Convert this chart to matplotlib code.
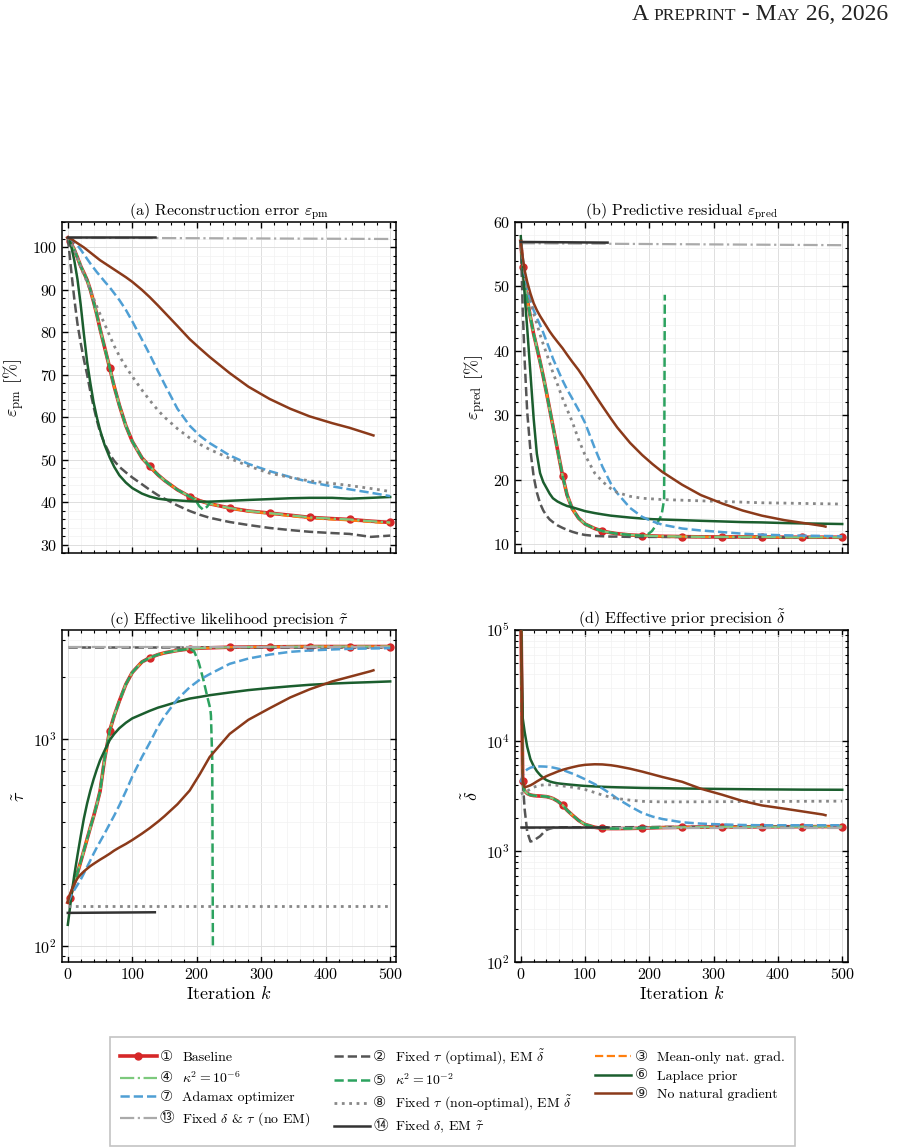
import matplotlib
matplotlib.use('Agg')
import matplotlib.pyplot as plt
from matplotlib.lines import Line2D
from matplotlib.text import Text
from matplotlib.legend_handler import HandlerLine2D
from matplotlib.ticker import MultipleLocator, NullFormatter
from matplotlib.offsetbox import TextArea, HPacker, AnchoredOffsetbox

plt.rcParams.update({
    'font.family': ['cmr10', 'DejaVu Sans'],
    'mathtext.fontset': 'cm',
    'axes.formatter.use_mathtext': True,
    'axes.unicode_minus': False,
    'axes.linewidth': 1.1,
})

# iteration grid (read-off points)
K = [0, 3, 6, 10, 15, 20, 25, 30, 35, 40, 45, 50, 57, 65, 72, 80, 90, 100, 115, 127,
     140, 150, 170, 189, 205, 220, 251, 280, 313, 345, 375, 410, 437, 470, 500]
K_nng = K[:-1] + [474]          # no natural gradient stops early
K_full = [0, 500]
K_fix14 = [0, 135]
MARKS = [1, 13, 19, 23, 26, 28, 30, 32, 34]  # baseline markers

# (a) reconstruction error [%]
pm_base = [102.3, 101.6, 100.7, 99.5, 97.6, 95.6, 94.0, 92.3, 90.0, 87.2, 84.2, 80.8, 76.5, 71.6, 67.2, 62.8, 58.0, 54.3, 50.4, 48.4,
           46.4, 45.1, 42.9, 41.3, 40.3, 39.6, 38.6, 37.9, 37.4, 36.9, 36.4, 36.1, 35.9, 35.5, 35.2]
pm_meanonly = [102.3, 101.6, 100.7, 99.5, 97.6, 95.6, 94.0, 92.3, 90.0, 87.2, 84.2, 80.8, 76.5, 71.6, 67.2, 62.8, 58.0, 54.3, 50.4, 48.4,
               46.4, 45.1, 42.9, 41.3, 40.3, 39.6, 38.5, 37.8, 37.3, 36.7, 36.2, 35.9, 35.7, 35.3, 35.0]
pm_fixtau = [102.3, 98.0, 93.5, 88.0, 82.0, 77.5, 73.5, 70.0, 66.0, 62.5, 59.3, 56.5, 53.8, 51.3, 49.7, 48.3, 47.0, 45.8, 44.2, 42.9,
             41.6, 40.8, 39.2, 37.9, 37.0, 36.3, 35.3, 34.6, 33.9, 33.4, 33.0, 32.7, 32.5, 31.8, 32.1]
pm_laplace = [102.3, 101.6, 99.8, 97.0, 92.5, 86.5, 79.5, 73.0, 68.0, 63.5, 60.0, 57.0, 53.5, 50.5, 48.3, 46.3, 44.6, 43.3, 42.0, 41.3,
              40.8, 40.6, 40.4, 40.2, 40.1, 40.1, 40.3, 40.5, 40.7, 40.9, 41.0, 41.0, 40.8, 41.0, 41.2]
pm_adamax = [102.3, 102.1, 101.8, 101.3, 100.5, 99.5, 98.4, 97.3, 96.2, 95.2, 94.2, 93.3, 92.0, 90.6, 89.2, 87.6, 85.3, 82.6, 78.3, 74.8,
             70.8, 67.8, 62.0, 58.0, 55.6, 53.9, 51.0, 49.0, 47.3, 45.9, 44.7, 43.7, 43.0, 42.2, 41.4]
pm_nonopt = [102.3, 101.7, 100.8, 99.5, 97.5, 95.5, 93.6, 91.8, 89.9, 88.0, 86.1, 84.3, 82.0, 79.2, 76.8, 74.4, 71.9, 69.6, 66.4, 64.0,
             61.6, 60.0, 57.3, 55.1, 53.6, 52.4, 50.3, 48.5, 46.8, 45.8, 45.0, 44.4, 43.9, 43.2, 42.5]
pm_nonat = [102.3, 102.1, 101.9, 101.5, 101.0, 100.5, 100.0, 99.4, 98.8, 98.2, 97.6, 97.0, 96.3, 95.5, 94.8, 94.0, 93.0, 91.9, 90.0, 88.3,
            86.3, 84.7, 81.5, 78.4, 76.2, 74.2, 70.4, 67.2, 64.3, 62.0, 60.2, 58.6, 57.5, 55.9, 55.7]
pm_k2_k = K[:24] + [198, 204, 210, 216, 222]
pm_k2 = pm_base[:24] + [40.5, 39.0, 38.2, 38.9, 40.2]
pm_fix13 = [102.3, 102.0]
pm_fix14 = [102.4, 102.4]

# (b) predictive residual [%]
pred_base = [57.0, 53.0, 50.5, 48.0, 45.2, 42.6, 40.5, 38.3, 36.0, 33.5, 30.9, 28.3, 24.7, 20.6, 17.6, 15.5, 14.0, 13.1, 12.4, 12.0,
             11.75, 11.6, 11.4, 11.3, 11.25, 11.2, 11.15, 11.1, 11.1, 11.1, 11.1, 11.05, 11.05, 11.05, 11.05]
pred_fixtau = [57.0, 46.5, 38.5, 30.5, 24.5, 20.5, 18.0, 16.3, 15.2, 14.4, 13.8, 13.4, 12.9, 12.5, 12.2, 11.9, 11.6, 11.4, 11.25, 11.2,
               11.15, 11.15, 11.1, 11.1, 11.1, 11.1, 11.1, 11.1, 11.05, 11.05, 11.05, 11.05, 11.05, 11.05, 11.05]
pred_laplace = [57.8, 53.0, 48.7, 43.5, 36.5, 29.5, 24.0, 21.0, 19.6, 18.7, 17.8, 17.1, 16.6, 16.2, 15.9, 15.7, 15.4, 15.1, 14.8, 14.6,
                14.4, 14.3, 14.1, 13.95, 13.85, 13.8, 13.7, 13.6, 13.5, 13.4, 13.35, 13.25, 13.2, 13.15, 13.1]
pred_adamax = [57.0, 54.5, 52.0, 50.0, 47.8, 46.3, 45.1, 44.0, 42.8, 41.5, 40.2, 38.8, 37.2, 35.4, 34.0, 32.6, 30.8, 28.8, 24.9, 22.0,
               19.4, 17.9, 15.6, 14.2, 13.5, 13.0, 12.4, 12.1, 11.85, 11.6, 11.45, 11.35, 11.3, 11.25, 11.2]
pred_nonopt = [57.0, 54.3, 51.8, 49.5, 47.4, 45.8, 44.2, 42.5, 41.0, 39.6, 38.1, 36.6, 34.8, 32.6, 30.9, 29.0, 26.2, 23.8, 21.0, 19.7,
               18.6, 18.0, 17.4, 17.1, 17.0, 16.9, 16.8, 16.7, 16.6, 16.5, 16.4, 16.35, 16.3, 16.25, 16.2]
pred_nonat = [57.0, 54.5, 52.5, 50.7, 48.9, 47.4, 46.3, 45.4, 44.6, 43.8, 43.0, 42.3, 41.4, 40.4, 39.4, 38.3, 37.0, 35.5, 33.2, 31.4,
              29.5, 28.1, 25.7, 23.8, 22.4, 21.2, 19.2, 17.6, 16.3, 15.2, 14.4, 13.7, 13.3, 12.8, 12.7]
pred_k2_k = K[:24] + [196, 204, 211, 219, 222, 223, 224]
pred_k2 = pred_base[:24] + [11.4, 12.0, 13.0, 14.5, 16.3, 17.0, 48.7]
pred_fix13 = [56.7, 56.4]
pred_fix14 = [56.9, 56.8]

# (c) effective likelihood precision
tau_base = [163, 172, 183, 200, 226, 256, 290, 330, 375, 424, 485, 560, 800, 1100, 1300, 1530, 1840, 2100, 2360, 2470,
            2560, 2610, 2680, 2730, 2750, 2760, 2780, 2785, 2790, 2795, 2800, 2800, 2800, 2800, 2800]
tau_laplace = [127, 150, 180, 220, 275, 340, 415, 490, 565, 640, 715, 790, 880, 990, 1060, 1130, 1200, 1260, 1320, 1370,
               1420, 1450, 1515, 1570, 1600, 1630, 1680, 1725, 1765, 1800, 1830, 1855, 1870, 1885, 1900]
tau_adamax = [163, 170, 178, 187, 198, 210, 225, 242, 260, 280, 300, 320, 350, 390, 428, 480, 560, 660, 820, 960,
              1150, 1290, 1560, 1780, 1940, 2060, 2310, 2450, 2560, 2640, 2680, 2710, 2730, 2740, 2750]
tau_nonat = [163, 177, 187, 200, 213, 222, 230, 237, 244, 250, 256, 262, 270, 280, 290, 300, 312, 326, 350, 372,
             400, 425, 485, 565, 680, 820, 1060, 1240, 1410, 1590, 1740, 1900, 2000, 2130, 2150]
tau_k2_k = K[:24] + [196, 203, 210, 216, 221, 222, 224, 225]
tau_k2 = tau_base[:24] + [2650, 2350, 1950, 1620, 1400, 1300, 800, 100]
tau_fixtau = [2780, 2780]
tau_nonopt = [157, 157]
tau_fix13 = [2780, 2780]
tau_fix14 = [145, 146]

# (d) effective prior precision
delta_base = [2.0e5, 4300, 3500, 3330, 3230, 3190, 3170, 3160, 3140, 3120, 3070, 3000, 2850, 2620, 2350, 2130, 1900, 1750, 1650, 1610,
              1605, 1605, 1610, 1620, 1630, 1640, 1650, 1655, 1660, 1662, 1665, 1668, 1670, 1672, 1675]
delta_fixtau = [2.0e5, 4400, 2400, 1500, 1225, 1250, 1310, 1370, 1470, 1560, 1600, 1630, 1645, 1650, 1650, 1650, 1650, 1650, 1650, 1650,
                1650, 1650, 1652, 1655, 1658, 1660, 1660, 1662, 1665, 1665, 1665, 1668, 1670, 1670, 1670]
delta_laplace = [1.5e5, 16000, 12000, 8800, 6800, 5900, 5300, 4900, 4600, 4400, 4280, 4200, 4120, 4070, 4030, 3990, 3940, 3900, 3860, 3830,
                 3805, 3790, 3765, 3740, 3730, 3720, 3700, 3680, 3660, 3645, 3630, 3620, 3610, 3605, 3600]
delta_adamax = [4200, 4900, 5250, 5500, 5700, 5800, 5840, 5850, 5840, 5820, 5770, 5720, 5600, 5450, 5250, 5050, 4770, 4480, 4050, 3700,
                3300, 3000, 2550, 2220, 2060, 1960, 1830, 1780, 1750, 1730, 1720, 1720, 1720, 1720, 1720]
delta_nonopt = [3300, 3350, 3400, 3500, 3650, 3800, 3880, 3950, 3980, 4000, 3990, 3980, 3950, 3900, 3850, 3800, 3720, 3620, 3400, 3220,
                3080, 3000, 2900, 2830, 2810, 2800, 2800, 2805, 2810, 2815, 2820, 2825, 2830, 2835, 2840]
delta_nonat = [2.0e5, 4200, 3800, 3850, 3950, 4100, 4280, 4450, 4620, 4780, 4920, 5050, 5250, 5450, 5600, 5750, 5930, 6050, 6120, 6100,
               6000, 5880, 5580, 5250, 4960, 4700, 4250, 3680, 3250, 2850, 2600, 2430, 2300, 2150, 2120]
delta_k2_k = K[:26]
delta_k2 = delta_base[:26]
delta_fix13 = [1640, 1640]
delta_fix14 = [1650, 1650]

labels = {
    'base': 'Baseline',
    'fixtau': 'Fixed $\\tau$ (optimal), EM $\\tilde{\\delta}$',
    'meanonly': 'Mean-only nat. grad.',
    'k6': '$\\kappa^2 = 10^{-6}$',
    'k2': '$\\kappa^2 = 10^{-2}$',
    'laplace': 'Laplace prior',
    'adamax': 'Adamax optimizer',
    'nonopt': 'Fixed $\\tau$ (non-optimal), EM $\\tilde{\\delta}$',
    'nonat': 'No natural gradient',
    'fix13': 'Fixed $\\delta$ & $\\tau$ (no EM)',
    'fix14': 'Fixed $\\delta$, EM $\\tilde{\\tau}$',
}
numbers = {'base': '\u2460', 'fixtau': '\u2461', 'meanonly': '\u2462', 'k6': '\u2463',
           'k2': '\u2464', 'laplace': '\u2465', 'adamax': '\u2466', 'nonopt': '\u2467',
           'nonat': '\u2468', 'fix13': '\u246c', 'fix14': '\u246d'}

st = {
    'base': dict(color='#d62728', ls='-', lw=2.6, marker='o', ms=5, zorder=2),
    'fixtau': dict(color='#555555', ls='--', lw=1.8, zorder=3),
    'meanonly': dict(color='#ff7f0e', ls='--', lw=1.6, zorder=3),
    'k6': dict(color='#7dc97d', ls='-.', lw=1.6, zorder=3),
    'k2': dict(color='#2ca25f', ls='--', lw=1.8, zorder=4),
    'laplace': dict(color='#1b5e2e', ls='-', lw=1.8, zorder=4),
    'adamax': dict(color='#4f9fd4', ls='--', lw=1.8, zorder=4),
    'nonopt': dict(color='#888888', ls=':', lw=2.0, zorder=4),
    'nonat': dict(color='#8b3a1a', ls='-', lw=1.8, zorder=4),
    'fix13': dict(color='#aaaaaa', ls='-.', lw=1.6, zorder=3),
    'fix14': dict(color='#333333', ls='-', lw=1.8, zorder=5),
}


class CircledLine(HandlerLine2D):
    # legend line followed by a circled number (cmr10 has no such glyphs)
    def __init__(self, mark, **kw):
        super().__init__(**kw)
        self.mark = mark

    def create_artists(self, legend, orig_handle, xdescent, ydescent, width, height, fontsize, trans):
        arts = super().create_artists(legend, orig_handle, xdescent, ydescent, width, height, fontsize, trans)
        t = Text(width - xdescent + 0.25 * fontsize, height / 2 - ydescent, self.mark,
                 fontsize=fontsize * 1.05, fontfamily=['DejaVu Sans', 'Noto Sans CJK SC'],
                 color='#222222', ha='left', va='center', transform=trans)
        return arts + [t]


fig = plt.figure(figsize=(9.04, 11.48), dpi=100)
W, H = 904, 1148


def add_ax(l, t, r, b):
    return fig.add_axes([l / W, 1 - b / H, (r - l) / W, (b - t) / H])


ax_a = add_ax(62, 222, 396, 553)
ax_b = add_ax(515, 222, 848, 553)
ax_c = add_ax(62, 630, 396, 962)
ax_d = add_ax(515, 630, 848, 962)


def draw(ax, base, rows):
    ax.plot(K, base, markevery=MARKS, **st['base'])
    for key, k, y in rows:
        ax.plot(k, y, **st[key])


draw(ax_a, pm_base, [
    ('fixtau', K, pm_fixtau), ('meanonly', K, pm_meanonly), ('k6', K, pm_base),
    ('k2', pm_k2_k, pm_k2), ('laplace', K, pm_laplace), ('adamax', K, pm_adamax),
    ('nonopt', K, pm_nonopt), ('nonat', K_nng, pm_nonat),
    ('fix13', K_full, pm_fix13), ('fix14', K_fix14, pm_fix14)])
draw(ax_b, pred_base, [
    ('fixtau', K, pred_fixtau), ('meanonly', K, pred_base), ('k6', K, pred_base),
    ('k2', pred_k2_k, pred_k2), ('laplace', K, pred_laplace), ('adamax', K, pred_adamax),
    ('nonopt', K, pred_nonopt), ('nonat', K_nng, pred_nonat),
    ('fix13', K_full, pred_fix13), ('fix14', K_fix14, pred_fix14)])
draw(ax_c, tau_base, [
    ('fixtau', K_full, tau_fixtau), ('meanonly', K, tau_base), ('k6', K, tau_base),
    ('k2', tau_k2_k, tau_k2), ('laplace', K, tau_laplace), ('adamax', K, tau_adamax),
    ('nonopt', K_full, tau_nonopt), ('nonat', K_nng, tau_nonat),
    ('fix13', K_full, tau_fix13), ('fix14', K_fix14, tau_fix14)])
draw(ax_d, delta_base, [
    ('fixtau', K, delta_fixtau), ('meanonly', K, delta_base), ('k6', K, delta_base),
    ('k2', delta_k2_k, delta_k2), ('laplace', K, delta_laplace), ('adamax', K, delta_adamax),
    ('nonopt', K, delta_nonopt), ('nonat', K_nng, delta_nonat),
    ('fix13', K_full, delta_fix13), ('fix14', K_fix14, delta_fix14)])

ax_a.set_ylim(28, 106)
ax_b.set_ylim(8.6, 60)
ax_c.set_yscale('log')
ax_c.set_ylim(84, 3365)
ax_d.set_yscale('log')
ax_d.set_ylim(100, 1e5)

for ax in (ax_a, ax_b):
    ax.yaxis.set_major_locator(MultipleLocator(10))
    ax.yaxis.set_minor_locator(MultipleLocator(2))
    ax.tick_params(labelbottom=False)
for ax in (ax_c, ax_d):
    ax.yaxis.set_minor_formatter(NullFormatter())
    ax.set_xlabel('Iteration $k$', fontsize=13, labelpad=2)

for ax in (ax_a, ax_b, ax_c, ax_d):
    ax.set_xlim(-9, 509)
    ax.xaxis.set_major_locator(MultipleLocator(100))
    ax.xaxis.set_minor_locator(MultipleLocator(20))
    ax.tick_params(which='both', direction='in', top=True, right=True, labelsize=11.5)
    ax.tick_params(which='major', length=4, width=1.0)
    ax.tick_params(which='minor', length=2, width=0.8)
    ax.grid(True, which='major', color='#dedede', lw=0.7)
    ax.grid(True, which='minor', color='#f1f1f1', lw=0.5)
    ax.set_axisbelow(True)

ax_a.set_title('(a) Reconstruction error $\\varepsilon_{\\mathrm{pm}}$', fontsize=11.5, pad=3)
ax_b.set_title('(b) Predictive residual $\\varepsilon_{\\mathrm{pred}}$', fontsize=11.5, pad=3)
ax_c.set_title('(c) Effective likelihood precision $\\tilde{\\tau}$', fontsize=11.5, pad=3)
ax_d.set_title('(d) Effective prior precision $\\tilde{\\delta}$', fontsize=11.5, pad=3)
ax_a.set_ylabel('$\\varepsilon_{\\mathrm{pm}}$ [%]', fontsize=13)
ax_b.set_ylabel('$\\varepsilon_{\\mathrm{pred}}$ [%]', fontsize=13)
ax_c.set_ylabel('$\\tilde{\\tau}$', fontsize=13)
ax_d.set_ylabel('$\\tilde{\\delta}$', fontsize=13)

# legend, filled column by column
order = ['base', 'k6', 'adamax', 'fix13',
         'fixtau', 'k2', 'nonopt', 'fix14',
         'meanonly', 'laplace', 'nonat']
handles = []
hmap = {}
for key in order:
    s = dict(st[key])
    s.pop('zorder')
    h = Line2D([], [], **s)
    handles.append(h)
    hmap[h] = CircledLine(numbers[key])
leg = fig.legend(handles, [labels[k] for k in order], ncol=3, loc='upper left',
                 bbox_to_anchor=(110 / W, 1 - 1037 / H), borderaxespad=0, fontsize=10,
                 frameon=True, fancybox=False, edgecolor='#b5b5b5', handler_map=hmap,
                 handlelength=2.6, handletextpad=1.85, labelspacing=0.42, columnspacing=1.65,
                 borderpad=0.75)
leg.get_frame().set_linewidth(1.2)

# running header in small caps
big = dict(fontfamily='Liberation Serif', fontsize=17, color='#222222')
small = dict(fontfamily='Liberation Serif', fontsize=12.5, color='#222222')
parts = [('A ', big), ('PREPRINT', small), (' - M', big), ('AY', small), (' 26, 2026', big)]
box = HPacker(children=[TextArea(t, textprops=p) for t, p in parts], align='baseline', pad=0, sep=0)
fig.add_artist(AnchoredOffsetbox(loc='upper right', child=box, pad=0, borderpad=0, frameon=False,
                                 bbox_to_anchor=(888 / W, 1 - 4 / H), bbox_transform=fig.transFigure))

fig.savefig('out.png', dpi=100)
